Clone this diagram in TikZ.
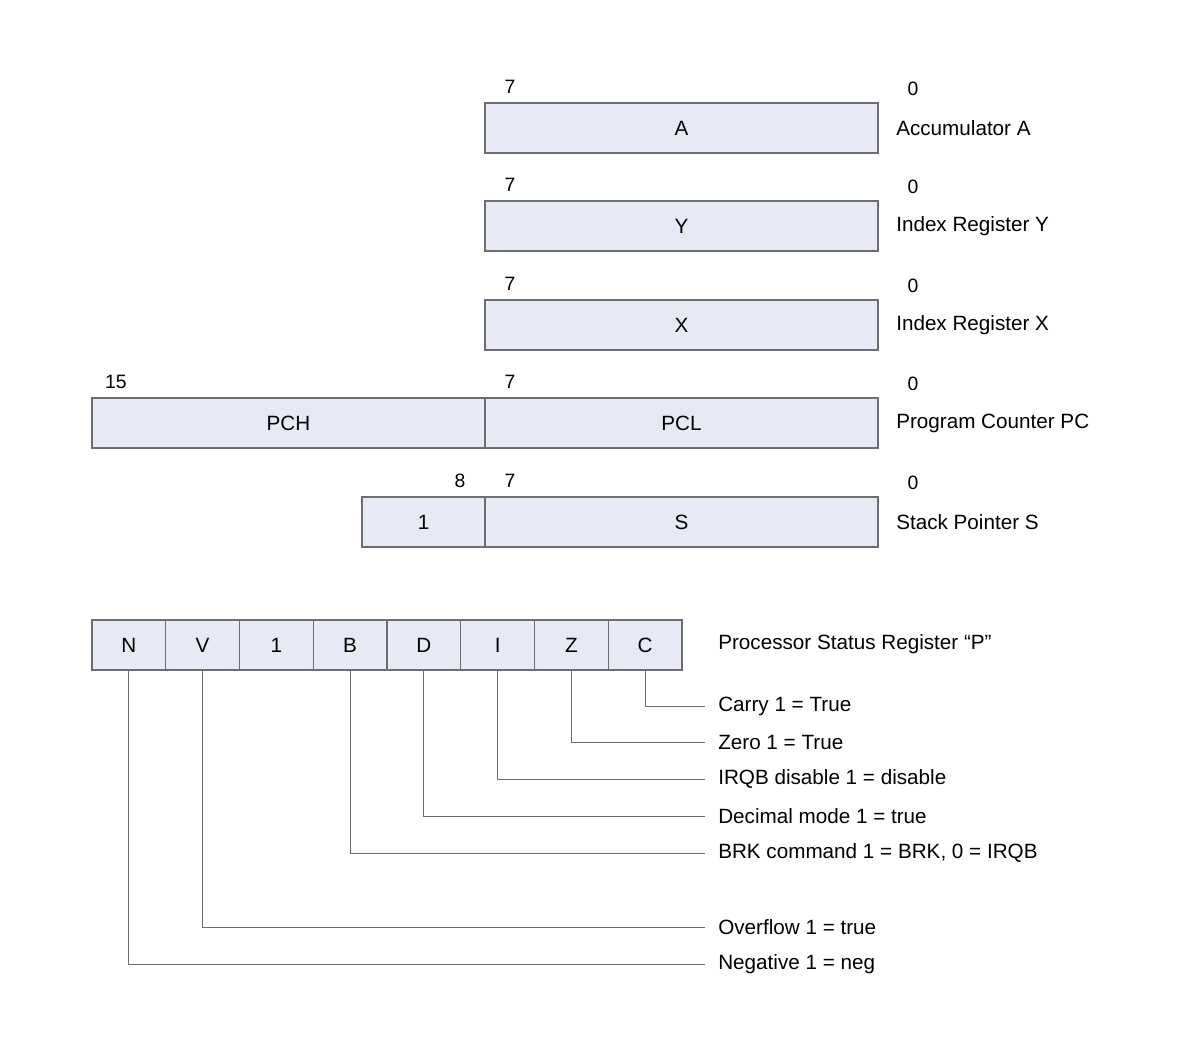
\documentclass[tikz,border=0pt]{standalone}
\usepackage{fontspec}
\setmainfont{Liberation Sans}
\usetikzlibrary{positioning}
\definecolor{regfill}{RGB}{230,234,245}
\definecolor{reglinecol}{RGB}{110,110,110}
\tikzset{
  regbox/.style={draw=reglinecol,fill=regfill,line width=0.8pt,minimum height=37.5pt,inner sep=0pt,font=\fontsize{15.5}{18}\selectfont},
  bitno/.style={inner sep=0pt,font=\fontsize{14.5}{17}\selectfont},
  regname/.style={anchor=west,inner sep=0pt,font=\fontsize{15.5}{18}\selectfont},
  flagline/.style={draw=reglinecol,line width=0.7pt}
}
\begin{document}
\begin{tikzpicture}[x=0.75pt,y=0.75pt,yscale=-1,xscale=1]
\useasboundingbox (0,0) rectangle (1200,1043);

% 8-bit registers
\foreach \reg/\yy/\txt in {A/128/Accumulator A,Y/226/Index Register Y,X/325/Index Register X}{
  \node[regbox,minimum width=294.75pt] (reg\reg) at (681.5,\yy) {\reg};
  \node[bitno] (hi\reg) at (510,\yy-41) {7};
  \node[bitno] (lo\reg) at (913,\yy-39) {0};
  \node[regname] (name\reg) at (896,\yy) {\txt};
}

% program counter
\node[regbox,minimum width=294.75pt] (pch) at (288.5,423) {PCH};
\node[regbox,minimum width=294.75pt] (pcl) at (681.5,423) {PCL};
\node[bitno] (hiPC) at (116,382) {15};
\node[bitno] (midPC) at (510,382) {7};
\node[bitno] (loPC) at (913,384) {0};
\node[regname] (namePC) at (896,423) {Program Counter PC};

% stack pointer
\node[regbox,minimum width=92.25pt] (sph) at (423.5,522) {1};
\node[regbox,minimum width=294.75pt] (spl) at (681.5,522) {S};
\node[bitno] (hiS) at (460,481) {8};
\node[bitno] (midS) at (510,481) {7};
\node[bitno] (loS) at (913,483) {0};
\node[regname] (nameS) at (896,522) {Stack Pointer S};

% status register
\foreach \f [count=\i] in {N,V,1,B,D,I,Z,C}
  \node[regbox,minimum width=55.31pt] (p\i) at (92+73.75*\i-36.875,645) {\f};
\node[regname] (nameP) at (718,644) {Processor Status Register “P”};

\foreach \i/\yy/\txt in {8/706/Carry 1 = True,7/742/Zero 1 = True,6/779/IRQB disable 1 = disable,
  5/816/Decimal mode 1 = true,4/853/{BRK command 1 = BRK, 0 = IRQB},2/927/Overflow 1 = true,1/964/Negative 1 = neg}{
  \node[regname] (flag\i) at (718,\yy) {\txt};
  \coordinate (end\i) at (705,\yy);
  \draw[flagline] (p\i.south) |- (end\i);
}
\end{tikzpicture}
\end{document}
